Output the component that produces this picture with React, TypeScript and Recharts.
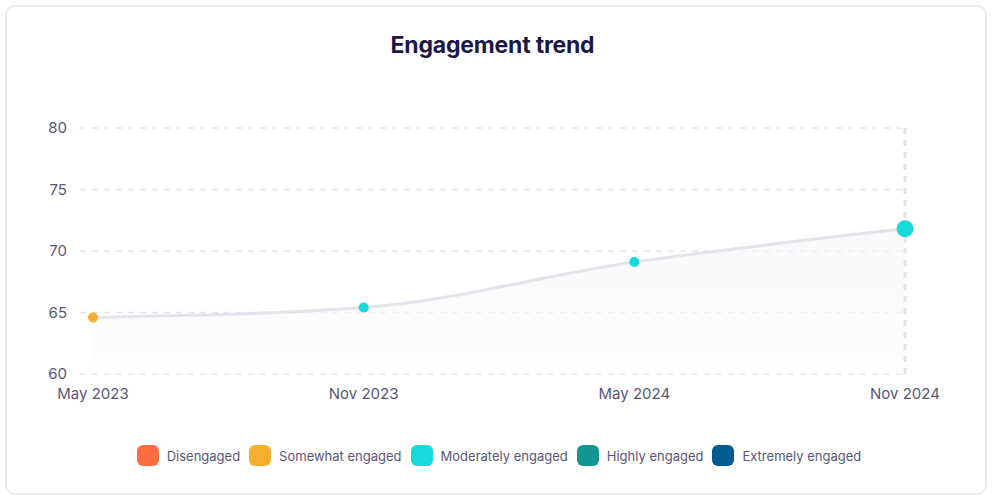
import React from 'react';
import { ComposedChart, Area, XAxis, YAxis, CartesianGrid, ReferenceLine } from 'recharts';

const months = ['May 2023', 'Nov 2023', 'May 2024', 'Nov 2024'];
const scores = [64.6, 65.4, 69.1, 71.8];
const pointLevels = ['Somewhat engaged', 'Moderately engaged', 'Moderately engaged', 'Moderately engaged'];
const yTicks = [60, 65, 70, 75, 80];
const levelNames = ['Disengaged', 'Somewhat engaged', 'Moderately engaged', 'Highly engaged', 'Extremely engaged'];
const levelColors = ['#FF6D3F', '#F5AE2D', '#16DAD9', '#139690', '#005B8E'];

const data = months.map((m, i) => ({ month: m, score: scores[i], level: pointLevels[i] }));

const FONT = 'Inter, "Noto Sans", sans-serif';
const TEXT = '#5a5678';

const Dot = (props: any) => {
  const { cx, cy, index, payload } = props;
  if (cx == null || cy == null) return null;
  const color = levelColors[levelNames.indexOf(payload.level)];
  const r = index === data.length - 1 ? 8.5 : 5;
  return <circle key={index} cx={cx} cy={cy} r={r} fill={color} stroke="none" />;
};

export default function App() {
  return (
    <div style={{ position: 'absolute', left: 0, top: 0, width: 993, height: 502, background: '#fff', fontFamily: FONT }}>
      <div style={{ position: 'absolute', left: 5, top: 5, width: 978, height: 486, border: '2px solid #ebebeb', borderRadius: 10 }} />
      <div style={{ position: 'absolute', left: 0, top: 31, width: 985, textAlign: 'center', fontSize: 23, fontWeight: 700, color: '#1c1745', letterSpacing: -0.2 }}>
        Engagement trend
      </div>
      <div style={{ position: 'absolute', left: 0, top: 0 }}>
        <ComposedChart width={993} height={502} data={data} margin={{ top: 128, right: 88, bottom: 98, left: 0 }}>
          <defs>
            <linearGradient id="areaFill" x1="0" y1="0" x2="0" y2="1">
              <stop offset="0%" stopColor="#f5f5f8" stopOpacity={1} />
              <stop offset="100%" stopColor="#fdfdfe" stopOpacity={1} />
            </linearGradient>
          </defs>
          <CartesianGrid vertical={false} stroke="#e4e4ea" strokeDasharray="6 6" strokeWidth={1.5} />
          <XAxis
            dataKey="month"
            axisLine={false}
            tickLine={false}
            tickMargin={8}
            height={30}
            padding={{ left: 13, right: 0 }}
            interval={0}
            tick={{ fill: TEXT, fontSize: 15, fontFamily: FONT }}
          />
          <YAxis
            domain={[60, 80]}
            ticks={yTicks}
            axisLine={false}
            tickLine={false}
            tickMargin={7}
            width={80}
            tick={{ fill: TEXT, fontSize: 15, fontFamily: FONT }}
          />
          <ReferenceLine x="Nov 2024" stroke="#e4e4ea" strokeWidth={3} strokeDasharray="6 6" />
          <Area
            type="monotone"
            dataKey="score"
            stroke="#e4e3ea"
            strokeWidth={3}
            fill="url(#areaFill)"
            baseValue={60}
            dot={<Dot />}
            activeDot={false}
            isAnimationActive={false}
          />
        </ComposedChart>
      </div>
      <div style={{ position: 'absolute', left: 0, top: 445, width: 998, display: 'flex', justifyContent: 'center', alignItems: 'center', fontSize: 13, color: TEXT }}>
        {levelNames.map((n, i) => (
          <div key={n} style={{ display: 'flex', alignItems: 'center', marginRight: i < levelNames.length - 1 ? 9 : 0 }}>
            <div style={{ width: 22, height: 21, borderRadius: 6, background: levelColors[i], marginRight: 8 }} />
            <span>{n}</span>
          </div>
        ))}
      </div>
    </div>
  );
}
